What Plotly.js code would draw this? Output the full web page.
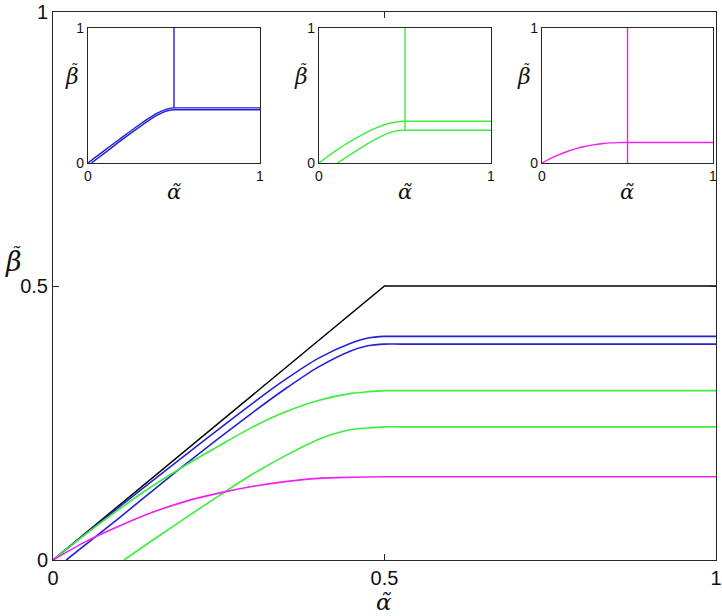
<!DOCTYPE html>
<html>
<head>
<meta charset="utf-8">
<script src="https://cdn.plot.ly/plotly-3.0.1.min.js"></script>
<style>html,body{margin:0;padding:0;background:#fff}#chart{width:722px;height:616px}</style>
</head>
<body>
<div id="chart"></div>
<script>
// ---- data ----
const blackX = [0, 0.5, 1];
const blackY = [0, 0.5, 0.5];

const blueUpperX = [0, 0.1, 0.2, 0.3, 0.35, 0.4, 0.45, 0.475, 0.5, 0.525, 0.75, 1];
const blueUpperY = [0, 0.097, 0.192, 0.285, 0.329, 0.368, 0.396, 0.405, 0.408, 0.408, 0.408, 0.408];

const blueLowerX = [0.02, 0.1, 0.2, 0.3, 0.35, 0.4, 0.45, 0.475, 0.5, 0.525, 0.75, 1];
const blueLowerY = [0, 0.077, 0.175, 0.268, 0.312, 0.352, 0.382, 0.391, 0.394, 0.394, 0.394, 0.394];

const greenUpperX = [0, 0.05, 0.1, 0.15, 0.2, 0.25, 0.3, 0.35, 0.4, 0.45, 0.475, 0.5, 0.525, 0.75, 1];
const greenUpperY = [0, 0.048, 0.093, 0.135, 0.173, 0.208, 0.242, 0.27, 0.291, 0.304, 0.307, 0.309, 0.309, 0.309, 0.309];

const greenLowerX = [0.107, 0.15, 0.2, 0.25, 0.3, 0.35, 0.4, 0.45, 0.475, 0.5, 0.525, 0.75, 1];
const greenLowerY = [0, 0.036, 0.077, 0.117, 0.156, 0.19, 0.22, 0.238, 0.241, 0.243, 0.243, 0.243, 0.243];

const magentaX = [0, 0.05, 0.1, 0.15, 0.2, 0.25, 0.3, 0.35, 0.4, 0.45, 0.5, 0.525, 0.75, 1];
const magentaY = [0, 0.034, 0.062, 0.087, 0.107, 0.122, 0.134, 0.143, 0.149, 0.151, 0.152, 0.152, 0.152, 0.152];

// vertical lines at alpha = 0.5 in the insets
const blueVertX = [0.5, 0.5];    const blueVertY = [0.408, 1];
const greenVertX = [0.5, 0.5];   const greenVertY = [0.243, 1];
const magentaVertX = [0.5, 0.5]; const magentaVertY = [0, 1];

const mainTicks = [0, 0.5, 1];
const mainTickText = ['0', '0.5', '1'];
const insetTicks = [0, 1];
const insetTickText = ['0', '1'];

const BLUE = '#2222d6', GREEN = '#3cee3c', MAGENTA = '#f020f0', BLACK = '#000000';

function line(x, y, color, w, xa, ya, smooth) {
  const ln = {color: color, width: w};
  if (smooth) { ln.shape = 'spline'; ln.smoothing = 0.8; }
  return {x: x, y: y, type: 'scatter', mode: 'lines', line: ln,
          xaxis: xa, yaxis: ya, hoverinfo: 'skip', showlegend: false};
}

const traces = [
  line(blackX, blackY, BLACK, 1.5, 'x', 'y', false),
  line(blueUpperX, blueUpperY, BLUE, 1.6, 'x', 'y', true),
  line(blueLowerX, blueLowerY, BLUE, 1.6, 'x', 'y', true),
  line(greenUpperX, greenUpperY, GREEN, 1.6, 'x', 'y', true),
  line(greenLowerX, greenLowerY, GREEN, 1.6, 'x', 'y', true),
  line(magentaX, magentaY, MAGENTA, 1.6, 'x', 'y', true),
  // inset 1
  line(blueUpperX, blueUpperY, BLUE, 1.4, 'x2', 'y2', true),
  line(blueLowerX, blueLowerY, BLUE, 1.4, 'x2', 'y2', true),
  line(blueVertX, blueVertY, BLUE, 1.4, 'x2', 'y2', false),
  // inset 2
  line(greenUpperX, greenUpperY, GREEN, 1.4, 'x3', 'y3', true),
  line(greenLowerX, greenLowerY, GREEN, 1.4, 'x3', 'y3', true),
  line(greenVertX, greenVertY, GREEN, 1.4, 'x3', 'y3', false),
  // inset 3
  line(magentaX, magentaY, MAGENTA, 1.4, 'x4', 'y4', true),
  line(magentaVertX, magentaVertY, MAGENTA, 1.4, 'x4', 'y4', false)
];

const AX = '#262626';
const FONT = 'Liberation Sans, Arial, sans-serif';
const SERIF = 'DejaVu Serif, serif';

function mainAxis(domain, anchor) {
  return {domain: domain, anchor: anchor, range: [0, 1], tickvals: mainTicks, ticktext: mainTickText,
          ticks: 'inside', ticklen: 6, tickcolor: AX, tickwidth: 1, showline: true, linecolor: AX,
          linewidth: 1, mirror: 'ticks', showgrid: false, zeroline: false,
          tickfont: {family: FONT, size: 20, color: '#111'}, fixedrange: true};
}
function insetAxis(domain, anchor) {
  return {domain: domain, anchor: anchor, range: [0, 1], tickvals: insetTicks, ticktext: insetTickText,
          ticks: 'inside', ticklen: 3, tickcolor: AX, tickwidth: 1, showline: true, linecolor: AX,
          linewidth: 1.2, mirror: true, showgrid: false, zeroline: false,
          tickfont: {family: FONT, size: 14, color: '#111'}, fixedrange: true};
}

const W = 722, H = 616;
const px = v => v / W;
const py = v => 1 - v / H;

const insetY = [py(163), py(28)];

// alpha: combining tilde sits correctly over the x-height letter
function alphaLabel(cx, cy, size) {
  return {text: '<i>α\u0303</i>', x: px(cx), y: py(cy), xref: 'paper', yref: 'paper',
          showarrow: false, font: {family: SERIF, size: size, color: '#111'}, borderpad: 0,
          xanchor: 'center', yanchor: 'middle'};
}
// beta: tall letter, so the tilde is raised by a baseline shift and pulled back over the letter
function betaLabel(cx, cy, size) {
  const ts = Math.round(size * 0.7), shift = Math.round(size * 0.42);
  return {text: '<i><span style="letter-spacing:-0.42em">β</span>' +
                '<span style="font-size:' + ts + 'px;baseline-shift:' + shift + 'px">\u02DC</span></i>',
          x: px(cx), y: py(cy), xref: 'paper', yref: 'paper',
          showarrow: false, font: {family: SERIF, size: size, color: '#111'}, borderpad: 0,
          xanchor: 'center', yanchor: 'middle'};
}

const annotations = [
  alphaLabel(384, 602, 23),
  betaLabel(13, 259, 27),
  alphaLabel(174, 192, 21),
  betaLabel(71, 75, 22),
  alphaLabel(405, 192, 21),
  betaLabel(300, 75, 22),
  alphaLabel(627, 192, 21),
  betaLabel(523, 75, 22)
];

const layout = {
  width: W, height: H,
  margin: {l: 0, r: 0, t: 0, b: 0},
  paper_bgcolor: '#ffffff', plot_bgcolor: '#ffffff',
  showlegend: false,
  xaxis: mainAxis([px(53), px(716)], 'y'),
  yaxis: mainAxis([py(560), py(12)], 'x'),
  xaxis2: insetAxis([px(88), px(260)], 'y2'),
  yaxis2: insetAxis(insetY, 'x2'),
  xaxis3: insetAxis([px(319), px(491)], 'y3'),
  yaxis3: insetAxis(insetY, 'x3'),
  xaxis4: insetAxis([px(542), px(713)], 'y4'),
  yaxis4: insetAxis(insetY, 'x4'),
  annotations: annotations
};

Plotly.newPlot('chart', traces, layout, {staticPlot: true, displayModeBar: false});
</script>
</body>
</html>
